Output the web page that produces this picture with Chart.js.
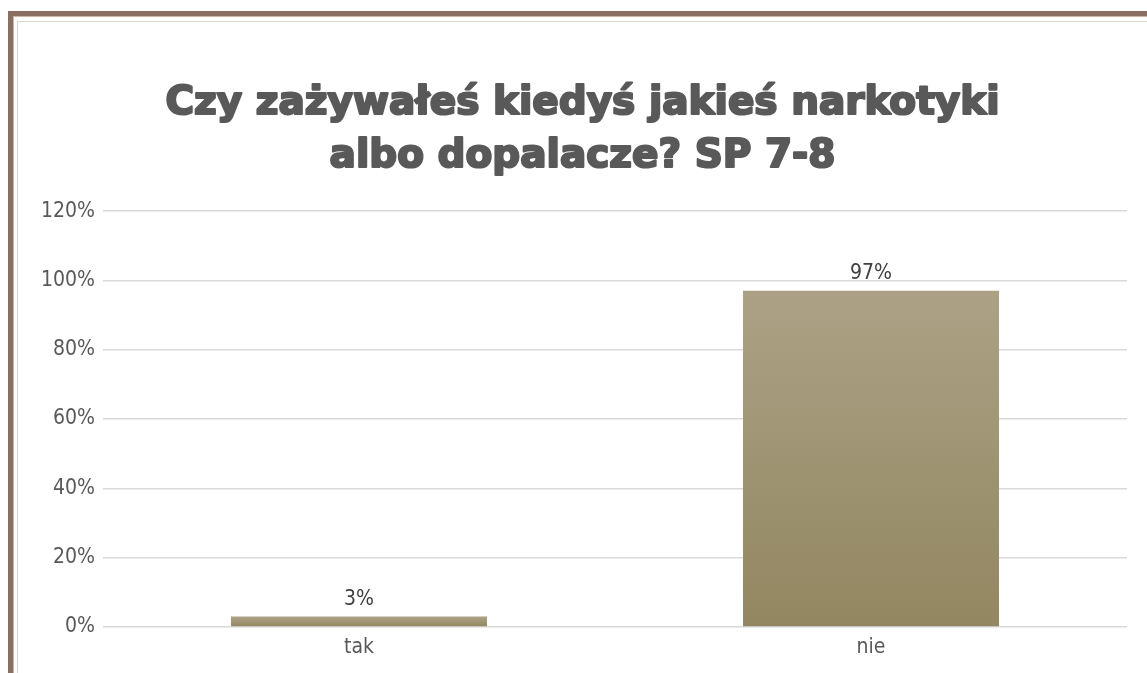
<!DOCTYPE html>
<html>
<head>
<meta charset="utf-8">
<script src="https://cdn.jsdelivr.net/npm/chart.js@4/dist/chart.umd.min.js"></script>
<style>
  html, body { margin: 0; padding: 0; background: #fff; width: 1147px; height: 673px; overflow: hidden; }
  .frame { position: absolute; left: 8px; top: 11px; width: 1160px; height: 680px;
           border-top: 5px solid #8b6f63; border-left: 5px solid #8b6f63;
           box-shadow: inset 1px 1px 0 #c9b3ab; }
  .inner { position: absolute; left: 17px; top: 21px; width: 1150px; height: 670px;
           border-top: 1px solid #d9d6d2; border-left: 1px solid #d9d6d2; }
  .wrap { position: absolute; left: 18px; top: 22px; width: 1129px; height: 651px; }
</style>
</head>
<body>
<div class="frame"></div>
<div class="inner"></div>
<div class="wrap"><canvas id="c"></canvas></div>
<script>
// dane
const kategorie = ['tak', 'nie'];
const wartosci = [3, 97];
const tytul = ['Czy zażywałeś kiedyś jakieś narkotyki', 'albo dopalacze? SP 7-8'];

const szary = '#595959';
const fontTytul = { family: "'DejaVu Sans', sans-serif", size: 39, weight: 'bold', lineHeight: 1.36 };

// gradient słupka (góra jaśniejsza, dół ciemniejszy)
function gradient(ctx) {
    const chart = ctx.chart;
    const y = chart.scales.y;
    if (!y || !chart.chartArea) return '#a0946f';
    const top = y.getPixelForValue(ctx.raw);
    const bot = y.getPixelForValue(0);
    const g = chart.ctx.createLinearGradient(0, top, 0, bot);
    g.addColorStop(0, '#aca185');
    g.addColorStop(1, '#928760');
    return g;
}

// etykiety danych nad słupkami
const etykiety = {
    id: 'etykiety',
    afterDatasetsDraw(chart) {
        const ctx = chart.ctx;
        ctx.save();
        ctx.font = "21px 'DejaVu Sans Condensed', 'DejaVu Sans', sans-serif";
        ctx.fillStyle = '#404040';
        ctx.textAlign = 'center';
        ctx.textBaseline = 'bottom';
        chart.getDatasetMeta(0).data.forEach((bar, i) => {
            ctx.fillText(wartosci[i] + '%', bar.x, bar.y - 7);
        });
        ctx.restore();
    }
};

// pogrubienie tytułu obrysem (tytuł w oryginale jest bardzo gruby)
const grubyTytul = {
    id: 'grubyTytul',
    afterDraw(chart) {
        const tb = chart.titleBlock;
        if (!tb) return;
        const ctx = chart.ctx;
        const lh = fontTytul.size * fontTytul.lineHeight;
        ctx.save();
        ctx.font = `bold ${fontTytul.size}px 'DejaVu Sans', sans-serif`;
        ctx.strokeStyle = szary;
        ctx.lineWidth = 2.2;
        ctx.lineJoin = 'round';
        ctx.textAlign = 'center';
        ctx.textBaseline = 'middle';
        const cx = (tb.left + tb.right) / 2;
        tytul.forEach((t, i) => {
            const y = tb.top + tb._padding.top + lh / 2 + i * lh;
            ctx.strokeText(t, cx, y);
        });
        ctx.restore();
    }
};

new Chart(document.getElementById('c'), {
    type: 'bar',
    data: {
        labels: kategorie,
        datasets: [{
            data: wartosci,
            backgroundColor: gradient,
            borderWidth: 0,
            barPercentage: 0.5,
            categoryPercentage: 1,
        }],
    },
    options: {
        responsive: true,
        maintainAspectRatio: false,
        animation: false,
        layout: { padding: { top: 21, right: 20, left: 20, bottom: 4 } },
        plugins: {
            legend: { display: false },
            tooltip: { enabled: false },
            title: {
                display: true,
                text: tytul,
                color: szary,
                font: fontTytul,
                padding: { top: 34, bottom: 28 },
            },
        },
        scales: {
            y: {
                min: 0, max: 120,
                afterFit: s => { s.width = 65; },
                border: { display: false },
                grid: { color: '#d9d9d9', lineWidth: 1.5, drawTicks: false },
                ticks: {
                    stepSize: 20, padding: 8, color: szary,
                    font: { family: "'DejaVu Sans Condensed', 'DejaVu Sans', sans-serif", size: 21 },
                    callback: v => v + '%',
                },
            },
            x: {
                afterFit: s => { s.height = 42; },
                border: { display: false },
                grid: { display: false, drawTicks: false },
                ticks: {
                    padding: 8, color: szary,
                    font: { family: "'DejaVu Sans Condensed', 'DejaVu Sans', sans-serif", size: 21 },
                },
            },
        },
    },
    plugins: [etykiety, grubyTytul],
});
</script>
</body>
</html>
